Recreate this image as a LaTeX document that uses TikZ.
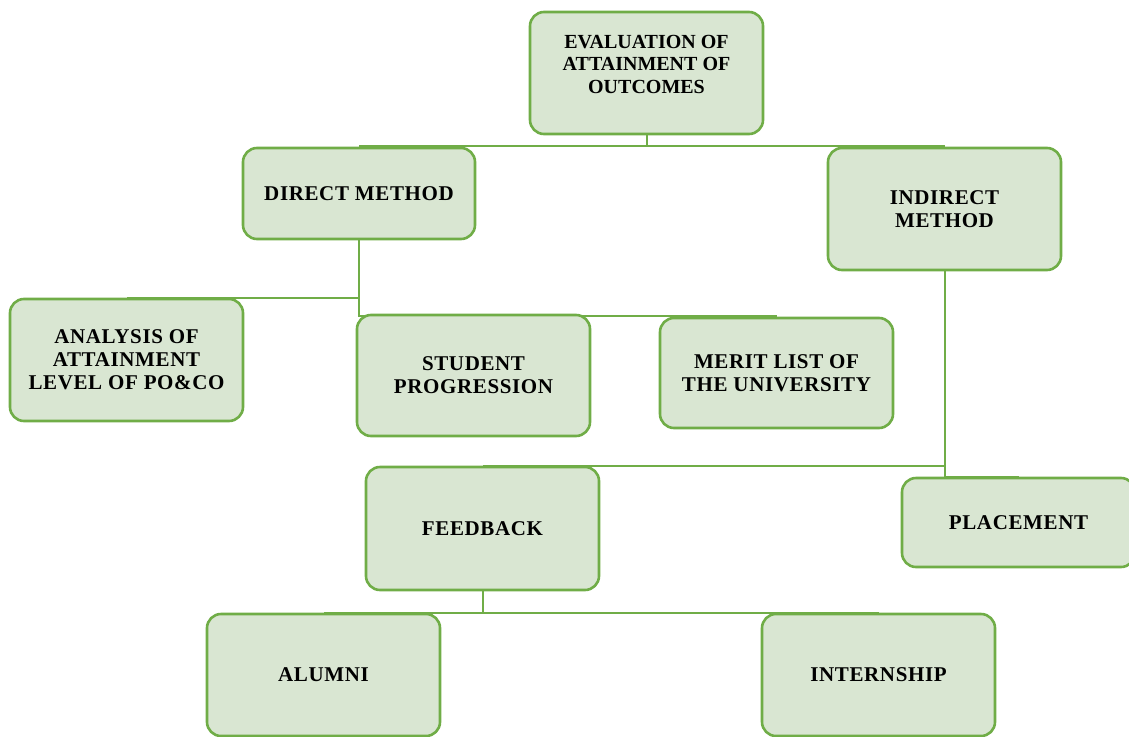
\documentclass[tikz,border=0pt]{standalone}
\usepackage{fontspec}
\setmainfont{Liberation Serif}
\definecolor{boxfill}{HTML}{D9E6D2}
\definecolor{boxline}{HTML}{70AD47}
\begin{document}
\begin{tikzpicture}[x=1pt,y=-1pt,
  box/.style={draw=boxline, line width=2.6pt, fill=boxfill, rounded corners=14pt,
    minimum width=233pt, align=center, inner sep=2pt,
    font=\fontsize{21}{23}\selectfont\bfseries\addfontfeature{LetterSpace=3}},
  lbl/.style={align=center, inner sep=0pt, font=\fontsize{21}{23}\selectfont\bfseries\addfontfeature{LetterSpace=3}},
  conn/.style={draw=boxline, line width=2pt}]
\useasboundingbox (0,0) rectangle (1129,736);
\begin{scope}
\clip (0,0) rectangle (1129,736);
% connectors (drawn first, under the boxes)
\coordinate (evbot) at (646.5,134);
\coordinate (dirbot) at (359,239);
\coordinate (indbot) at (944.5,270);
\coordinate (fbbot) at (482.5,590);
\draw[conn] (evbot) |- (359,146) (evbot) |- (944.5,146);
\draw[conn] (dirbot) |- (126.5,298) (dirbot) |- (776.5,316);
\draw[conn] (indbot) |- (482.5,466) (indbot) |- (1018.5,477);
\draw[conn] (fbbot) |- (323.5,613) (fbbot) |- (878.5,613);
% boxes
\node[box, minimum height=122pt] (eval) at (646.5,73) {};
\node[lbl, font=\fontsize{20}{22.5}\selectfont\bfseries] (evaltxt) at (646.5,64) {EVALUATION OF\\ATTAINMENT OF\\OUTCOMES};
\node[box, minimum height=91pt, minimum width=232pt] (direct) at (359,193.5) {DIRECT METHOD};
\node[box, minimum height=122pt] (indirect) at (944.5,209) {INDIRECT\\METHOD};
\node[box, minimum height=122pt] (analysis) at (126.5,360) {ANALYSIS OF\\ATTAINMENT\\LEVEL OF PO\&CO};
\node[box, minimum height=121pt] (student) at (473.5,375.5) {STUDENT\\PROGRESSION};
\node[box, minimum height=110pt] (merit) at (776.5,373) {MERIT LIST OF\\THE UNIVERSITY};
\node[box, minimum height=123pt] (feedback) at (482.5,528.5) {FEEDBACK};
\node[box, minimum height=89pt] (placement) at (1018.5,522.5) {};
\node[lbl] (placetxt) at (1018.5,522.5) {PLACEMENT};
\node[box, minimum height=122pt] (alumni) at (323.5,675) {ALUMNI};
\node[box, minimum height=122pt] (internship) at (878.5,675) {INTERNSHIP};
\end{scope}
\end{tikzpicture}
\end{document}
